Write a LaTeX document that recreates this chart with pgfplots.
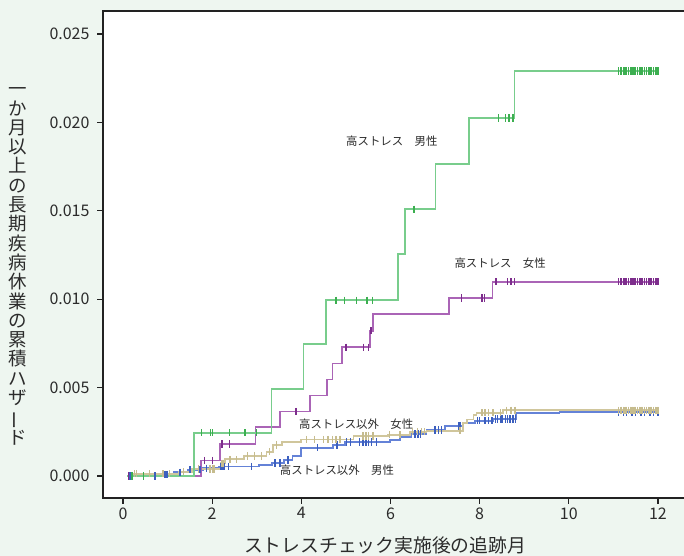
\documentclass[border=0pt]{standalone}
\usepackage{fontspec}
\setmainfont{Noto Sans CJK JP}
\usepackage{graphicx}
\usepackage{pgfplots}
\pgfplotsset{compat=1.18}
\definecolor{bg}{HTML}{EEF6F0}
\definecolor{axcol}{HTML}{222222}
\definecolor{labcol}{HTML}{2B2B2B}
\definecolor{gline}{RGB}{120,205,140}
\definecolor{gmark}{RGB}{60,175,80}
\definecolor{pline}{RGB}{170,100,182}
\definecolor{pmark}{RGB}{125,45,140}
\definecolor{bline}{RGB}{100,130,215}
\definecolor{bmark}{RGB}{60,95,190}
\definecolor{tline}{RGB}{208,198,156}
\definecolor{tmark}{RGB}{198,188,142}
\tikzset{lab/.style={font=\fontsize{11.4bp}{13bp}\selectfont, text=labcol},
  cens/.style={only marks, mark=|, mark size=3.6bp, mark options={line width=1.3bp}},
  kmstep/.style={no marks, const plot mark left, line width=1.8bp}}
\begin{document}
\begin{tikzpicture}
\fill[bg] (0,0) rectangle (684bp,556bp);
\useasboundingbox (0,0) rectangle (684bp,556bp);
\begin{axis}[at={(103bp,58bp)}, anchor=south west, scale only axis,
  width=583bp, height=487bp,
  xmin=-0.449, xmax=12.629, ymin=-0.001244, ymax=0.0263,
  axis background/.style={fill=white},
  axis line style={line width=2bp, draw=axcol},
  every tick/.style={line width=1.3bp, draw=axcol},
  tick align=outside, major tick length=6bp, tick pos=left,
  xtick={0,2,4,6,8,10,12}, ytick={0,0.005,0.01,0.015,0.02,0.025},
  scaled y ticks=false,
  tick label style={font=\fontsize{16bp}{19bp}\selectfont, text=labcol},
  yticklabel style={xshift=-4bp, /pgf/number format/.cd, fixed, fixed zerofill, precision=3},
  /pgf/number format/assume math mode=true,
  ]
% blue: high-stress excluded, male
\addplot[bline, kmstep] coordinates {(0.10,0) (0.80,0.00008) (1.15,0.00022) (1.45,0.00036) (1.80,0.00044) (2.15,0.00054) (3.05,0.00064) (3.35,0.00074) (3.62,0.00090) (3.80,0.00112) (4.00,0.00160) (4.71,0.00175) (4.98,0.00192) (5.99,0.00204) (6.21,0.00219) (6.47,0.00238) (6.81,0.00260) (7.22,0.00283) (7.63,0.00302) (7.90,0.00313) (8.31,0.00322) (8.82,0.00355) (9.79,0.00362) (12.02,0.00362)};
\addplot[cens, bmark] coordinates {(0.16,0) (0.22,0) (0.72,0) (0.94,0.00008) (0.99,0.00008) (1.28,0.00022) (1.50,0.00036) (1.73,0.00036) (1.88,0.00044) (2.00,0.00044) (2.18,0.00054) (2.21,0.00054) (2.24,0.00054) (2.27,0.00054) (2.36,0.00054) (2.89,0.00054) (3.41,0.00074) (3.52,0.00074) (3.70,0.00090) (4.37,0.00160) (4.80,0.00175) (5.02,0.00192) (5.10,0.00192) (5.30,0.00192) (5.38,0.00192) (5.45,0.00192) (5.50,0.00192) (5.58,0.00192) (5.68,0.00192) (6.55,0.00238) (6.62,0.00238) (6.68,0.00238) (7.00,0.00260) (7.08,0.00260) (7.15,0.00260) (7.52,0.00283) (7.56,0.00283) (7.95,0.00313) (8.00,0.00313) (8.12,0.00313) (8.20,0.00313) (8.28,0.00313) (8.35,0.00322) (8.40,0.00322) (8.48,0.00322) (8.52,0.00322) (8.58,0.00322) (8.62,0.00322) (8.68,0.00322) (8.75,0.00322) (8.80,0.00322) (11.12,0.00362) (11.22,0.00362) (11.30,0.00362) (11.42,0.00362) (11.50,0.00362) (11.62,0.00362) (11.70,0.00362) (11.82,0.00362) (11.90,0.00362) (12.00,0.00362)};
% tan: high-stress excluded, female
\addplot[tline, kmstep] coordinates {(0.10,0) (0.22,0.00012) (1.25,0.00024) (1.55,0.00040) (2.20,0.00072) (2.28,0.00094) (2.72,0.00113) (3.22,0.00137) (3.37,0.00175) (3.56,0.00194) (4.00,0.00207) (5.17,0.00226) (5.95,0.00234) (6.44,0.00250) (6.81,0.00256) (7.63,0.00300) (7.71,0.00320) (7.86,0.00345) (7.93,0.00358) (8.53,0.00372) (12.02,0.00372)};
\addplot[cens, tmark] coordinates {(0.25,0.00012) (0.30,0.00012) (0.60,0.00012) (0.90,0.00012) (1.05,0.00012) (1.35,0.00024) (1.70,0.00040) (1.95,0.00040) (2.00,0.00040) (2.04,0.00040) (2.22,0.00072) (2.25,0.00072) (2.40,0.00094) (2.55,0.00094) (2.80,0.00113) (2.95,0.00113) (3.10,0.00113) (3.28,0.00137) (3.45,0.00175) (4.12,0.00207) (4.30,0.00207) (4.50,0.00207) (4.60,0.00207) (4.70,0.00207) (4.78,0.00207) (4.87,0.00207) (5.38,0.00226) (5.45,0.00226) (5.50,0.00226) (5.61,0.00226) (5.97,0.00234) (6.21,0.00234) (6.50,0.00250) (6.60,0.00250) (6.70,0.00250) (6.77,0.00250) (7.56,0.00256) (8.05,0.00358) (8.12,0.00358) (8.20,0.00358) (8.30,0.00358) (8.46,0.00358) (8.60,0.00372) (8.70,0.00372) (8.79,0.00372) (11.12,0.00372) (11.17,0.00372) (11.22,0.00372) (11.26,0.00372) (11.30,0.00372) (11.34,0.00372) (11.38,0.00372) (11.42,0.00372) (11.46,0.00372) (11.50,0.00372) (11.54,0.00372) (11.58,0.00372) (11.62,0.00372) (11.66,0.00372) (11.70,0.00372) (11.74,0.00372) (11.78,0.00372) (11.82,0.00372) (11.86,0.00372) (11.90,0.00372) (11.94,0.00372) (11.98,0.00372) (12.00,0.00372)};
% purple: high-stress female
\addplot[pline, kmstep] coordinates {(0.10,0) (1.75,0.00088) (2.17,0.00181) (2.97,0.00275) (3.52,0.00365) (4.20,0.00455) (4.58,0.00546) (4.70,0.00636) (4.91,0.00729) (5.54,0.00821) (5.61,0.00915) (7.31,0.01007) (8.29,0.01098) (12.02,0.01098)};
\addplot[cens, pmark] coordinates {(0.12,0) (1.83,0.00088) (2.00,0.00088) (2.22,0.00181) (2.39,0.00181) (3.88,0.00365) (5.00,0.00729) (5.40,0.00729) (5.50,0.00729) (5.56,0.00821) (7.60,0.01007) (8.05,0.01007) (8.11,0.01007) (8.37,0.01098) (8.62,0.01098) (8.70,0.01098) (8.78,0.01098) (11.12,0.01098) (11.17,0.01098) (11.22,0.01098) (11.26,0.01098) (11.30,0.01098) (11.34,0.01098) (11.38,0.01098) (11.42,0.01098) (11.46,0.01098) (11.50,0.01098) (11.54,0.01098) (11.58,0.01098) (11.62,0.01098) (11.66,0.01098) (11.70,0.01098) (11.74,0.01098) (11.78,0.01098) (11.82,0.01098) (11.86,0.01098) (11.90,0.01098) (11.94,0.01098) (11.98,0.01098) (12.00,0.01098)};
% green: high-stress male
\addplot[gline, kmstep] coordinates {(0.10,0) (1.60,0.00245) (3.33,0.00494) (4.05,0.00746) (4.55,0.00994) (6.17,0.01254) (6.33,0.01509) (7.01,0.01766) (7.76,0.02025) (8.78,0.02291) (12.02,0.02291)};
\addplot[cens, gmark] coordinates {(0.20,0) (0.46,0) (1.76,0.00245) (1.97,0.00245) (2.00,0.00245) (2.39,0.00245) (2.72,0.00245) (2.75,0.00245) (3.00,0.00245) (4.78,0.00994) (4.97,0.00994) (5.23,0.00994) (5.47,0.00994) (5.60,0.00994) (6.53,0.01509) (8.42,0.02025) (8.58,0.02025) (8.66,0.02025) (8.75,0.02025) (11.12,0.02291) (11.17,0.02291) (11.22,0.02291) (11.26,0.02291) (11.30,0.02291) (11.34,0.02291) (11.38,0.02291) (11.42,0.02291) (11.46,0.02291) (11.50,0.02291) (11.54,0.02291) (11.58,0.02291) (11.62,0.02291) (11.66,0.02291) (11.70,0.02291) (11.74,0.02291) (11.78,0.02291) (11.82,0.02291) (11.86,0.02291) (11.90,0.02291) (11.94,0.02291) (11.98,0.02291) (12.00,0.02291)};
\node[lab] at (axis cs:6.03,0.01895) {高ストレス　男性};
\node[lab] at (axis cs:8.46,0.01205) {高ストレス　女性};
\node[lab] at (axis cs:5.23,0.00294) {高ストレス以外　女性};
\node[lab] at (axis cs:4.80,0.00034) {高ストレス以外　男性};
\end{axis}
\node[font=\fontsize{18.8bp}{22bp}\selectfont, text=labcol] at (385bp,11bp) {ストレスチェック実施後の追跡月};
\node[font=\fontsize{18.5bp}{19.3bp}\selectfont, align=center, text=labcol, inner sep=0pt] at (17.5bp,289.5bp) {一\\か\\月\\以\\上\\の\\長\\期\\疾\\病\\休\\業\\の\\累\\積\\ハ\\ザ\\\rotatebox[origin=c]{90}{ー}\\ド};
\end{tikzpicture}
\end{document}
